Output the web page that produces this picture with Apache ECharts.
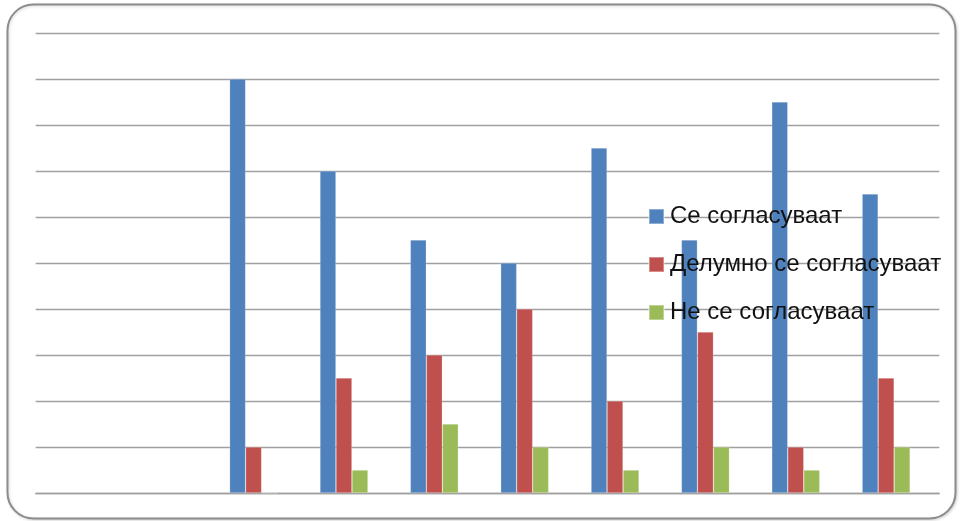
<!DOCTYPE html>
<html>
<head>
<meta charset="utf-8">
<script src="https://cdn.jsdelivr.net/npm/echarts@6/dist/echarts.min.js"></script>
<style>
html,body{margin:0;padding:0;background:#fff;}
#c{width:960px;height:521px;}
</style>
</head>
<body>
<div id="c"></div>
<script>
var categories = ['1','2','3','4','5','6','7','8','9','10'];
var seriesNames = ['Се согласуваат', 'Делумно се согласуваат', 'Не се согласуваат'];
var agree =        ['-', '-', 9,   7,   5.5, 5, 7.5, 5.5, 8.5, 6.5];
var partlyAgree =  ['-', '-', 1,   2.5, 3,   4, 2,   3.5, 1,   2.5];
var disagree =     ['-', '-', 0,   0.5, 1.5, 1, 0.5, 1,   0.5, 1];
var emptySeries =  ['-', '-', '-', '-', '-', '-', '-', '-', '-', '-'];
var yTicks = [0,1,2,3,4,5,6,7,8,9,10];

var chart = echarts.init(document.getElementById('c'), null, {renderer:'canvas'});
var colors = ['#4F81BD', '#C0504D', '#9BBB59', '#8064A2'];
function barSeries(name, data, color) {
  return {
    name: name, type: 'bar', data: data, barWidth: 16, barGap: '0%',
    itemStyle: { color: color, borderColor: 'rgba(255,255,255,0.35)', borderWidth: 0.6 },
    silent: true
  };
}
chart.setOption({
  animation: false,
  backgroundColor: '#ffffff',
  graphic: [{
    type: 'rect', z: -10,
    shape: { x: 7.5, y: 4.5, width: 948, height: 514, r: 26 },
    style: { fill: '#ffffff', stroke: '#8c8c8c', lineWidth: 2,
             shadowColor: 'rgba(0,0,0,0.15)', shadowBlur: 3, shadowOffsetX: 1, shadowOffsetY: 1 }
  }],
  grid: { left: 35.7, right: 20.7, top: 33, bottom: 28, containLabel: false },
  xAxis: {
    type: 'category', data: categories,
    axisLine: { show: true, lineStyle: { color: '#a0a0a0', width: 1.3 } },
    axisTick: { show: false }, axisLabel: { show: false }, splitLine: { show: false }
  },
  yAxis: {
    type: 'value', min: yTicks[0], max: yTicks[yTicks.length - 1], interval: 1,
    axisLine: { show: false }, axisTick: { show: false }, axisLabel: { show: false },
    splitLine: { show: true, lineStyle: { color: '#a0a0a0', width: 1.3 } }
  },
  legend: {
    data: seriesNames,
    orient: 'vertical', left: 648, top: 204.5, padding: 0,
    itemWidth: 15, itemHeight: 15, itemGap: 24,
    icon: 'rect',
    textStyle: { fontFamily: 'Liberation Sans, Arial, sans-serif', fontSize: 24, lineHeight: 24, color: '#111', padding: [0,0,0,1] },
    selectedMode: false
  },
  series: [
    barSeries(seriesNames[0], agree, colors[0]),
    barSeries(seriesNames[1], partlyAgree, colors[1]),
    barSeries(seriesNames[2], disagree, colors[2]),
    barSeries('empty', emptySeries, colors[3])
  ]
});
</script>
</body>
</html>
